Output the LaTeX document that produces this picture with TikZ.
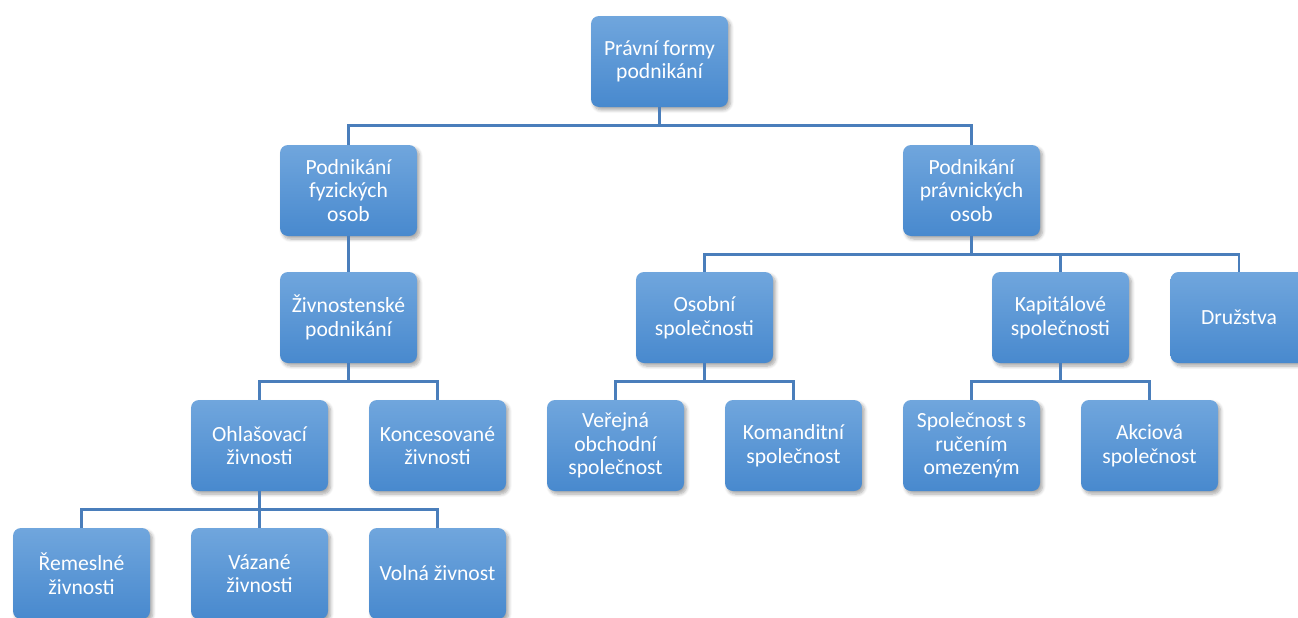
\documentclass[tikz,border=0pt]{standalone}
\usepackage{fontspec}
\setmainfont{Carlito}
\usetikzlibrary{shadows.blur}
\definecolor{boxtop}{RGB}{112,166,221}
\definecolor{boxbot}{RGB}{72,137,206}
\definecolor{linkblue}{RGB}{74,126,187}
\begin{document}
\begin{tikzpicture}[
unit/.style={rounded corners=0.16cm,minimum width=2.74cm,minimum height=1.82cm,
  top color=boxtop,bottom color=boxbot,text=white,align=center,
  font=\fontsize{12.3}{13.4}\selectfont,
  blur shadow={shadow xshift=0.05cm,shadow yshift=-0.06cm,shadow blur steps=6,shadow opacity=35}},
link/.style={draw=linkblue,line width=1.6pt},
]
\useasboundingbox(0,0)rectangle(25.96,12.34);
%root
\node[unit](root)at(13.19,11.11){Právní formy\\podnikání};
%level 1
\node[unit](fyz)at(6.97,8.53){Podnikání\\fyzických\\osob};
\node[unit](prav)at(19.43,8.53){Podnikání\\právnických\\osob};
%level 2
\node[unit](ziv)at(6.97,5.99){Živnostenské\\podnikání};
\node[unit](osob)at(14.09,5.99){Osobní\\společnosti};
\node[unit](kap)at(21.21,5.99){Kapitálové\\společnosti};
\node[unit](druz)at(24.78,5.99){Družstva};
%level 3
\node[unit](ohl)at(5.19,3.43){Ohlašovací\\živnosti};
\node[unit](konc)at(8.75,3.43){Koncesované\\živnosti};
\node[unit](ver)at(12.31,3.43){Veřejná\\obchodní\\společnost};
\node[unit](kom)at(15.87,3.43){Komanditní\\společnost};
\node[unit](sro)at(19.43,3.43){Společnost s\\ručením\\omezeným};
\node[unit](akc)at(22.99,3.43){Akciová\\společnost};
%level 4
\node[unit](rem)at(1.63,0.87){Řemeslné\\živnosti};
\node[unit](vaz)at(5.19,0.87){Vázané\\živnosti};
\node[unit](vol)at(8.75,0.87){Volná živnost};

%links
\draw[link](root.south)--++(0,-0.36)-|(fyz.north);
\draw[link](root.south)--++(0,-0.36)-|(prav.north);
\draw[link](fyz)--(ziv);
\draw[link](prav.south)--++(0,-0.36)-|(osob.north);
\draw[link](prav.south)--++(0,-0.36)-|(kap.north);
\draw[link](prav.south)--++(0,-0.36)-|(druz.north);
\draw[link](ziv.south)--++(0,-0.36)-|(ohl.north);
\draw[link](ziv.south)--++(0,-0.36)-|(konc.north);
\draw[link](osob.south)--++(0,-0.36)-|(ver.north);
\draw[link](osob.south)--++(0,-0.36)-|(kom.north);
\draw[link](kap.south)--++(0,-0.36)-|(sro.north);
\draw[link](kap.south)--++(0,-0.36)-|(akc.north);
\draw[link](ohl.south)--++(0,-0.36)-|(rem.north);
\draw[link](ohl)--(vaz);
\draw[link](ohl.south)--++(0,-0.36)-|(vol.north);

\end{tikzpicture}
\end{document}
